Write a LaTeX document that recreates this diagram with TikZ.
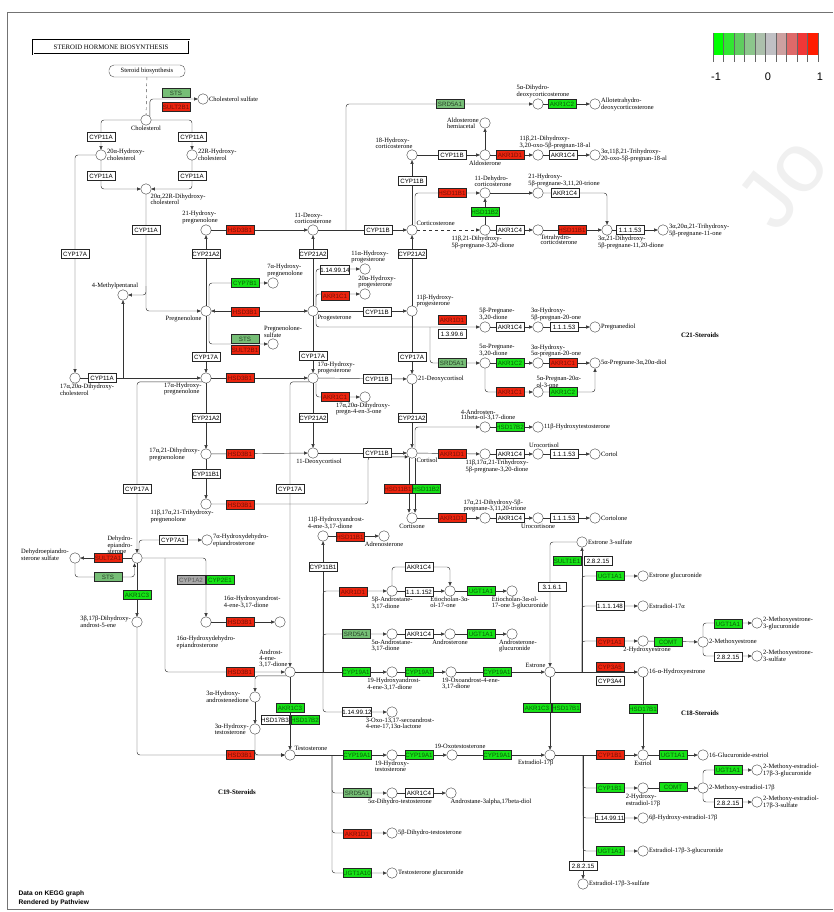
\documentclass[tikz,border=0pt]{standalone}
\usepackage{fontspec}
\setmainfont{Liberation Serif}
\setsansfont{Liberation Sans}
\usepackage{tikz}
\usetikzlibrary{arrows.meta}
\usetikzlibrary{positioning}
\usetikzlibrary{calc}
\definecolor{upred}{RGB}{236,36,14}
\definecolor{dngreen}{RGB}{22,226,22}
\definecolor{palegreen}{RGB}{118,190,118}
\definecolor{midgray}{RGB}{168,168,168}
\tikzstyle{cpd}=[draw=black!75,circle,fill=white,minimum size=10.5pt,inner sep=0pt,line width=0.4pt]
\tikzstyle{lbl}=[font=\fontsize{6.5}{5.8}\selectfont,align=left,inner sep=0.5pt]
\tikzstyle{gene}=[draw=black!85,rectangle,minimum width=28pt,minimum height=9pt,inner sep=0pt,line width=0.4pt,font=\sffamily\fontsize{6.2}{6.2}\selectfont]
\tikzstyle{upg}=[gene,fill=upred,text=upred!50!black]
\tikzstyle{dng}=[gene,fill=dngreen,text=dngreen!40!black]
\tikzstyle{pale}=[gene,fill=palegreen,text=palegreen!35!black]
\tikzstyle{grg}=[gene,fill=midgray,text=black!65]
\tikzstyle{nog}=[gene,fill=white,text=black]
\tikzstyle{rx}=[draw=black!80,line width=0.45pt,rounded corners=3pt]
\tikzstyle{ra}=[rx,-{Triangle[length=3.4pt,width=3.2pt]}]
\tikzstyle{rb}=[rx,{Triangle[length=3.4pt,width=3.2pt]}-{Triangle[length=3.4pt,width=3.2pt]}]
\tikzstyle{grp}=[font=\bfseries\fontsize{6.8}{6.8}\selectfont]

\begin{document}
\begin{tikzpicture}[x=1pt,y=-1pt]
\useasboundingbox (0,0) rectangle (833,912);
\node[text=black!6,rotate=52,font=\sffamily\fontsize{84}{84}\selectfont] (wmark) at (782,182) {Jo};
\draw[black!55,line width=0.8pt] (833,12) -- (7,12) -- (7,909) -- (833,909);

% title and legend
\node[draw,double,double distance=0.9pt,line width=0.4pt,minimum width=156pt,minimum height=14pt,font=\fontsize{6.8}{7}\selectfont] (title) at (111,47) {STEROID HORMONE BIOSYNTHESIS};
\node[draw=black!70,rounded corners=5pt,minimum width=76pt,minimum height=12pt,lbl] (sbio) at (147,71) {Steroid biosynthesis};
\foreach \c [count=\i from 0] in {{rgb,255:red,0;green,255;blue,0},{rgb,255:red,50;green,230;blue,50},{rgb,255:red,95;green,205;blue,95},{rgb,255:red,140;green,198;blue,140},{rgb,255:red,172;green,192;blue,172},{rgb,255:red,192;green,192;blue,196},{rgb,255:red,205;green,160;blue,160},{rgb,255:red,222;green,105;blue,105},{rgb,255:red,240;green,55;blue,55},{rgb,255:red,255;green,28;blue,0}}
  \fill[color=\c] (713+\i*10.5,33) rectangle ++(10.5,22);
\foreach \i in {0,...,10}
  \draw[black!60,line width=0.4pt] (713+\i*10.5,33) -- ++(0,29);
\node[font=\sffamily\fontsize{11}{11}\selectfont] (lgm) at (716,77) {-1};
\node[font=\sffamily\fontsize{11}{11}\selectfont] (lgz) at (768,77) {0};
\node[font=\sffamily\fontsize{11}{11}\selectfont] (lgp) at (820,77) {1};

% compounds
\node[cpd,label={[lbl]below:Cholesterol}] (chol) at (146,120) {};
\node[cpd,label={[lbl]right:Cholesterol sulfate}] (chols) at (203,99) {};
\node[cpd,label={[lbl]right:{20α-Hydroxy-\\cholesterol}}] (ohc20) at (101,155) {};
\node[cpd,label={[lbl]right:{22R-Hydroxy-\\cholesterol}}] (ohc22) at (192,155) {};
\node[cpd,label={[lbl]below right:{20α,22R-Dihydroxy-\\cholesterol}}] (dhc) at (146,189) {};
\node[cpd,label={[lbl,xshift=-8pt]above:4-Methylpentanal}] (mpent) at (123,295) {};
\node[cpd,label={[lbl,xshift=12pt]below:{17α,20α-Dihydroxy-\\cholesterol}}] (dhc1720) at (75,378) {};
\node[cpd,label={[lbl,xshift=-6pt]above:{21-Hydroxy-\\pregnenolone}}] (ohpreg21) at (206,230) {};
\node[cpd,label={[lbl]below left:Pregnenolone}] (preg) at (206,311) {};
\node[cpd,label={[lbl,xshift=12pt]above:{7α-Hydroxy-\\pregnenolone}}] (ohpreg7) at (273,283) {};
\node[cpd,label={[lbl,xshift=10pt]above:{Pregnenolone-\\sulfate}}] (pregs) at (273,344) {};
\node[cpd,label={[lbl]below left:{17α-Hydroxy-\\pregnenolone}}] (ohpreg17) at (206,378) {};
\node[cpd,label={[lbl]left:{17α,21-Dihydroxy-\\pregnenolone}}] (dhpreg) at (206,454) {};
\node[cpd,label={[lbl,xshift=-24pt]below:{11β,17α,21-Trihydroxy-\\pregnenolone}}] (thpreg) at (206,504) {};
\node[cpd,label={[lbl]above:{11-Deoxy-\\corticosterone}}] (doc) at (313,230) {};
\node[cpd,label={[lbl]below right:Progesterone}] (prog) at (313,311) {};
\node[cpd,label={[lbl,xshift=5pt]above:{11α-Hydroxy-\\progesterone}}] (ohprog11a) at (365,269) {};
\node[cpd,label={[lbl,xshift=12pt]above:{20α-Hydroxy-\\progesterone}}] (ohprog20a) at (365,294) {};
\node[cpd,label={[lbl]above right:{17α-Hydroxy-\\progesterone}}] (ohprog17) at (313,378) {};
\node[cpd,label={[lbl,xshift=-2pt]below:{17α,20α-Dihydroxy-\\pregn-4-en-3-one}}] (dhp1720) at (365,397) {};
\node[cpd,label={[lbl,xshift=6pt]below:11-Deoxycortisol}] (docl) at (313,453) {};
\node[cpd,label={[lbl]above right:{11β-Hydroxy-\\progesterone}}] (ohprog11b) at (412,311) {};
\node[cpd,label={[lbl]above right:Corticosterone}] (cort) at (412,230) {};
\node[cpd,label={[lbl,xshift=-18pt]above:{18-Hydroxy-\\corticosterone}}] (ohcort18) at (412,155) {};
\node[cpd,label={[lbl]below:Aldosterone}] (aldo) at (485,155) {};
\node[cpd,label={[lbl]left:{Aldosterone\\hemiacetal}}] (aldoh) at (485,123) {};
\node[cpd,label={[lbl,xshift=17pt]above:{11β,21-Dihydroxy-\\3,20-oxo-5β-pregnan-18-al}}] (oxal) at (538,155) {};
\node[cpd,label={[lbl]right:{3α,11β,21-Trihydroxy-\\20-oxo-5β-pregnan-18-al}}] (thal) at (595,155) {};
\node[cpd,label={[lbl,xshift=5pt]above:{5α-Dihydro-\\deoxycorticosterone}}] (dhdoc) at (538,104) {};
\node[cpd,label={[lbl]right:{Allotetrahydro-\\deoxycorticosterone}}] (atdoc) at (595,104) {};
\node[cpd,label={[lbl,xshift=8pt]above:{11-Dehydro-\\corticosterone}}] (dhcort) at (485,193) {};
\node[cpd,label={[lbl,xshift=26pt]above:{21-Hydroxy-\\5β-pregnane-3,11,20-trione}}] (trione) at (538,193) {};
\node[cpd,label={[lbl,xshift=-2pt]below:{11β,21-Dihydroxy-\\5β-pregnane-3,20-dione}}] (dhpd) at (485,230) {};
\node[cpd,label={[lbl,xshift=-2pt]below right:{Tetrahydro-\\corticosterone}}] (thcort) at (538,230) {};
\node[cpd,label={[lbl,xshift=24pt]below:{3α,21-Dihydroxy-\\5β-pregnane-11,20-dione}}] (dhpdi) at (607,230) {};
\node[cpd,label={[lbl]right:{3α,20α,21-Trihydroxy-\\5β-pregnane-11-one}}] (thpo) at (663,230) {};
\node[cpd,label={[lbl]right:21-Deoxycortisol}] (dd21) at (412,379) {};
\node[cpd,label={[lbl]below right:Cortisol}] (cortl) at (412,453) {};
\node[cpd,label={[lbl,xshift=12pt]above:{5β-Pregnane-\\3,20-dione}}] (pd5b) at (485,327) {};
\node[cpd,label={[lbl,xshift=18pt]above:{3α-Hydroxy-\\5β-pregnan-20-one}}] (hp5b) at (538,327) {};
\node[cpd,label={[lbl]right:Pregnanediol}] (pdiol) at (595,327) {};
\node[cpd,label={[lbl,xshift=12pt]above:{5α-Pregnane-\\3,20-dione}}] (pd5a) at (485,363) {};
\node[cpd,label={[lbl,xshift=18pt]above:{3α-Hydroxy-\\5α-pregnan-20-one}}] (hp5a) at (538,363) {};
\node[cpd,label={[lbl]right:{5α-Pregnane-3α,20α-diol}}] (pdiol5a) at (595,363) {};
\node[cpd,label={[lbl,xshift=-6pt]above right:{5α-Pregnan-20α-\\ol-3-one}}] (polo) at (538,392) {};
\node[cpd,label={[lbl,xshift=3pt]above:{4-Androsten-\\11beta-ol-3,17-dione}}] (andol) at (485,427) {};
\node[cpd,label={[lbl]right:11β-Hydroxytestosterone}] (ohtest11) at (538,427) {};
\node[cpd,label={[lbl,xshift=12pt]below:{11β,17α,21-Trihydroxy-\\5β-pregnane-3,20-dione}}] (thpd) at (485,454) {};
\node[cpd,label={[lbl,xshift=6pt]above:Urocortisol}] (urol) at (538,454) {};
\node[cpd,label={[lbl]right:Cortol}] (cortol) at (595,454) {};
\node[cpd,label={[lbl]below:Cortisone}] (cortn) at (412,518) {};
\node[cpd,label={[lbl,xshift=10pt]above:{17α,21-Dihydroxy-5β-\\pregnane-3,11,20-trione}}] (dhpt) at (485,518) {};
\node[cpd,label={[lbl]below:Urocortisone}] (uron) at (538,518) {};
\node[cpd,label={[lbl]right:Cortolone}] (cortln) at (595,518) {};
\node[cpd,label={[lbl,yshift=3pt]left:{Dehydroepiandro-\\sterone sulfate}}] (dheas) at (75,558) {};
\node[cpd,label={[lbl]above left:{Dehydro-\\epiandro-\\sterone}}] (dhea) at (137,558) {};
\node[cpd,label={[lbl]right:{7α-Hydroxydehydro-\\epiandrosterone}}] (ohdhea7) at (207,540) {};
\node[cpd,label={[lbl,yshift=-8pt]below:{16α-Hydroxydehydro-\\epiandrosterone}}] (ohdhea16) at (206,622) {};
\node[cpd,label={[lbl,xshift=5pt,yshift=9pt]above left:{16α-Hydroxyandrost-\\4-ene-3,17-dione}}] (ohad16) at (280,622) {};
\node[cpd,label={[lbl]left:{3β,17β-Dihydroxy-\\androst-5-ene}}] (adiol) at (137,622) {};
\node[cpd,label={[lbl,xshift=2pt]above left:{Androst-\\4-ene-\\3,17-dione}}] (andro) at (290,672) {};
\node[cpd,label={[lbl,xshift=13pt]above:{11β-Hydroxyandrost-\\4-ene-3,17-dione}}] (ohandro11) at (323,536) {};
\node[cpd,label={[lbl]below:Adrenosterone}] (adren) at (384,536) {};
\node[cpd,label={[lbl]below:{5β-Androstane-\\3,17-dione}}] (ad5b) at (392,591) {};
\node[cpd,label={[lbl]below:{Etiocholan-3α-\\ol-17-one}}] (etio) at (450,591) {};
\node[cpd,label={[lbl,xshift=8pt]below:{Etiocholan-3α-ol-\\17-one 3-glucuronide}}] (etiog) at (512,591) {};
\node[cpd,label={[lbl]below:{5α-Androstane-\\3,17-dione}}] (ad5a) at (392,634) {};
\node[cpd,label={[lbl]below:Androsterone}] (andros) at (450,634) {};
\node[cpd,label={[lbl,xshift=6pt]below:{Androsterone-\\glucuronide}}] (androsg) at (512,634) {};
\node[cpd,label={[lbl,xshift=2pt]below:{19-Hydroxyandrost-\\4-ene-3,17-dione}}] (ohad19) at (392,672) {};
\node[cpd,label={[lbl,xshift=20pt]below:{19-Oxoandrost-4-ene-\\3,17-dione}}] (oxad19) at (451,672) {};
\node[cpd,label={[lbl]above left:Estrone}] (estrone) at (550,672) {};
\node[cpd,label={[lbl,xshift=8pt]below:{3-Oxo-13,17-secoandrost-\\4-ene-17,13α-lactone}}] (lact) at (392,712) {};
\node[cpd,label={[lbl]left:{3α-Hydroxy-\\androstenedione}}] (ohae3a) at (255,697) {};
\node[cpd,label={[lbl]left:{3α-Hydroxy-\\testosterone}}] (ohtest3a) at (255,729) {};
\node[cpd,label={[lbl]above right:Testosterone}] (test) at (290,755) {};
\node[cpd,label={[lbl]below:{19-Hydroxy-\\testosterone}}] (ohtest19) at (392,755) {};
\node[cpd,label={[lbl,xshift=8pt]above:19-Oxotestosterone}] (oxtest19) at (452,755) {};
\node[cpd,label={[lbl,xshift=8pt]below left:Estradiol-17β}] (estrad) at (550,755) {};
\node[cpd,label={[lbl,xshift=8pt]below:5α-Dihydro-testosterone}] (dht5a) at (392,793) {};
\node[cpd,label={[lbl,xshift=40pt]below:Androstane-3alpha,17beta-diol}] (adiol5a) at (451,793) {};
\node[cpd,label={[lbl]right:5β-Dihydro-testosterone}] (dht5b) at (392,833) {};
\node[cpd,label={[lbl]right:Testosterone glucuronide}] (testg) at (392,873) {};
\node[cpd,label={[lbl]right:Estrone 3-sulfate}] (e1s) at (582,542) {};
\node[cpd,label={[lbl]right:Estrone glucuronide}] (e1g) at (643,576) {};
\node[cpd,label={[lbl]right:Estradiol-17α}] (e2a) at (643,606) {};
\node[cpd,label={[lbl,xshift=4pt]below:2-Hydroxyestrone}] (ohe1) at (643,641) {};
\node[cpd,label={[lbl]right:2-Methoxyestrone}] (meoe1) at (703,642) {};
\node[cpd,label={[lbl]right:{2-Methoxyestrone-\\3-glucuronide}}] (meoe1g) at (757,623) {};
\node[cpd,label={[lbl]right:{2-Methoxyestrone-\\3-sulfate}}] (meoe1s) at (757,656) {};
\node[cpd,label={[lbl]right:16-α-Hydroxyestrone}] (ohe16) at (643,672) {};
\node[cpd,label={[lbl]below:Estriol}] (estriol) at (643,755) {};
\node[cpd,label={[lbl]right:16-Glucuronide-estriol}] (estriolg) at (703,755) {};
\node[cpd,label={[lbl]below:{2-Hydroxy-\\estradiol-17β}}] (ohe2) at (643,788) {};
\node[cpd,label={[lbl]right:2-Methoxy-estradiol-17β}] (meoe2) at (703,788) {};
\node[cpd,label={[lbl]right:{2-Methoxy-estradiol-\\17β-3-glucuronide}}] (meoe2g) at (757,770) {};
\node[cpd,label={[lbl]right:{2-Methoxy-estradiol-\\17β-3-sulfate}}] (meoe2s) at (757,802) {};
\node[cpd,label={[lbl]right:6β-Hydroxy-estradiol-17β}] (ohe26) at (643,818) {};
\node[cpd,label={[lbl]right:Estradiol-17β-3-glucuronide}] (e2g) at (643,851) {};
\node[cpd,label={[lbl]right:Estradiol-17β-3-sulfate}] (e2s) at (583,884) {};

\coordinate (b1) at (146,286);
\coordinate (b2) at (123,378);
\coordinate (b3) at (430,327);
\coordinate (b4) at (165,558);
\coordinate (b5) at (332,755);
\coordinate (b6) at (323,672);
\coordinate (b7) at (582,672);
\coordinate (b8) at (583,755);
\coordinate (b9) at (346,230);

% reactions, C21
\draw[rx,dashed,black!70] (sbio) -- (chol);
\draw[ra] (chol.north east) |- (chols);
\draw[ra] (chol) -| (ohc20);
\draw[ra] (chol) -| (ohc22);
\draw[ra] (ohc20) |- (dhc);
\draw[ra] (ohc22) |- (dhc);
\draw[ra] (ohc20) -| (dhc1720);
\draw[ra] (dhc) |- (preg);
\draw[ra] (b1) |- (mpent);
\draw[ra] (b2) -- (mpent);
\draw[ra] (dhc1720) -- (ohpreg17);
\draw[ra] (preg) -- (ohpreg21);
\draw[ra] (ohpreg21) -- (doc);
\draw[rb] (preg) -- (prog);
\draw[ra] ([xshift=3pt]preg.north) |- (ohpreg7);
\draw[ra] ([xshift=3pt]preg.south) |- (pregs);
\draw[ra] (preg) -- (ohpreg17);
\draw[ra] (ohpreg17) -- (ohprog17);
\draw[ra] (ohpreg17) -- (dhpreg);
\draw[ra] (dhpreg) -- (docl);
\draw[ra] (dhpreg) -- (thpreg);
\draw[ra] (thpreg) -- ++(162,0) |- (cortl.south west);
\draw[ra] (ohpreg17.south west) -| (dhea);
\draw[ra] (prog) -- (doc);
\draw[ra] ([xshift=3pt]prog.north) |- (ohprog11a);
\draw[ra] ([xshift=3pt]prog.north) |- (ohprog20a);
\draw[ra] (prog) -- (ohprog11b);
\draw[ra] (prog) -- (ohprog17);
\draw[ra] ([xshift=3pt]prog.south) |- (pd5b);
\draw[ra] (b3) |- (pd5a);
\draw[ra] (ohprog11b) -- (cort);
\draw[ra] (ohprog11b) -- (dd21);
\draw[ra] (ohprog17) -- (dd21);
\draw[ra] ([xshift=3pt]ohprog17.south) |- (dhp1720);
\draw[ra] (ohprog17) -- (docl);
\draw[ra] (dd21) -- (cortl);
\draw[ra] (docl) -- (cortl);
\draw[ra] (ohprog17.south west) -| (andro);
\draw[ra] (doc) -- (cort);
\draw[ra] (b9) |- (dhdoc);
\draw[ra] (dhdoc) -- (atdoc);
\draw[ra] (cort) -- (ohcort18);
\draw[ra] (ohcort18) -- (aldo);
\draw[ra] (aldo) -- (aldoh);
\draw[ra] (aldo) -- (oxal);
\draw[ra] (oxal) -- (thal);
\draw[ra] ([xshift=3pt]cort.north) |- (dhcort);
\draw[ra,dashed] (cort) -- (dhpd);
\draw[ra] (dhpd) -- (dhcort);
\draw[ra] (dhpd) -- (thcort);
\draw[ra] (thcort) -- (dhpdi);
\draw[ra] (dhpdi) -- (thpo);
\draw[ra] (dhcort) -- (trione);
\draw[ra] (trione) -| (dhpdi);
\draw[ra] (pd5b) -- (hp5b);
\draw[ra] (hp5b) -- (pdiol);
\draw[ra] (pd5a) -- (hp5a);
\draw[ra] (hp5a) -- (pdiol5a);
\draw[ra] (pd5a) |- (polo);
\draw[ra] (polo) -| (pdiol5a);
\draw[ra] ([xshift=3pt]cortl.north) |- (andol);
\draw[ra] (andol) -- (ohtest11);
\draw[ra] (cortl) -- (thpd);
\draw[ra] (thpd) -- (urol);
\draw[ra] (urol) -- (cortol);
\draw[ra] ([xshift=-3pt]cortl.south) -- ([xshift=-3pt]cortn.north);
\draw[ra] ([xshift=3pt]cortl.south) -- ([xshift=3pt]cortn.north);
\draw[ra] (cortn) -- (dhpt);
\draw[ra] (dhpt) -- (uron);
\draw[ra] (uron) -- (cortln);
% C19
\draw[ra] (dhea) -- (dheas);
\draw[ra] (dheas) |- ++(30,19) -| ([xshift=-2.5pt]dhea.south);
\draw[ra] ([xshift=2pt]dhea.north) |- (ohdhea7);
\draw[ra] (dhea) -| (ohdhea16);
\draw[ra] (b4) |- (andro);
\draw[ra] (ohdhea16) -- (ohad16);
\draw[ra] (dhea) -- (adiol);
\draw[ra] (adiol) |- (test);
\draw[ra] (andro) -- (test);
\draw[ra] (andro.south west) -| (ohae3a);
\draw[ra] (ohae3a) -- (ohtest3a);
\draw[ra] (ohtest3a) |- (test);
\draw[ra] (andro) -- (ohad19);
\draw[ra] (ohad19) -- (oxad19);
\draw[ra] (oxad19) -- (estrone);
\draw[ra] (b6) -- (ohandro11);
\draw[ra] (ohandro11) -- (adren);
\draw[ra] (b6) |- (ad5b);
\draw[ra] (b6) |- (ad5a);
\draw[ra] (b6) |- (lact);
\draw[ra] (ad5b) -- (etio);
\draw[ra] (ad5b) -- ++(0,-24) -| (etio);
\draw[ra] (etio) -- (etiog);
\draw[ra] (ad5a) -- (andros);
\draw[ra] (andros) -- (androsg);
\draw[ra] (test) -- (ohtest19);
\draw[ra] (ohtest19) -- (oxtest19);
\draw[ra] (oxtest19) -- (estrad);
\draw[ra] (b5) |- (dht5a);
\draw[ra] (b5) |- (dht5b);
\draw[ra] (b5) |- (testg);
\draw[ra] (dht5a) -- (adiol5a);
% C18
\draw[ra] (b7) -- (e1s);
\draw[ra] (e1s) -| (estrone);
\draw[ra] (b7) |- (e1g);
\draw[ra] (b7) |- (e2a);
\draw[ra] (b7) |- (ohe1);
\draw[ra] (estrone) -- (ohe16);
\draw[ra] (ohe1) -- (meoe1);
\draw[ra] (meoe1) |- (meoe1g);
\draw[ra] (meoe1) |- (meoe1s);
\draw[ra] (ohe16) -- (estriol);
\draw[ra] (estrone) -- (estrad);
\draw[ra] (estrad) -- (estriol);
\draw[ra] (estriol) -- (estriolg);
\draw[ra] (b8) |- (ohe2);
\draw[ra] (b8) |- (ohe26);
\draw[ra] (b8) |- (e2g);
\draw[ra] (b8) -- (e2s);
\draw[ra] (ohe2) -- (meoe2);
\draw[ra] (meoe2) |- (meoe2g);
\draw[ra] (meoe2) |- (meoe2s);

% gene products
\node[pale] (gSTSa) at (176,93) {STS};
\node[upg] (gSULTa) at (176,107) {SULT2B1};
\node[nog] (gA1) at (101,137) {CYP11A};
\node[nog] (gA2) at (192,137) {CYP11A};
\node[nog] (gA3) at (101,176) {CYP11A};
\node[nog] (gA4) at (192,176) {CYP11A};
\node[nog] (gA5) at (146,230) {CYP11A};
\node[nog] (gA6) at (102,378) {CYP11A};
\node[nog] (gB1) at (75,254) {CYP17A};
\node[nog] (gB2) at (206,357) {CYP17A};
\node[nog] (gB3) at (313,356) {CYP17A};
\node[nog] (gB4) at (412,357) {CYP17A};
\node[nog] (gB5) at (137,489) {CYP17A};
\node[nog] (gB6) at (290,489) {CYP17A};
\node[nog] (gC1) at (206,254) {CYP21A2};
\node[nog] (gC2) at (313,254) {CYP21A2};
\node[nog] (gC3) at (412,254) {CYP21A2};
\node[nog] (gC4) at (206,418) {CYP21A2};
\node[nog] (gC5) at (313,418) {CYP21A2};
\node[nog] (gC6) at (412,418) {CYP21A2};
\node[nog] (gD1) at (378,230) {CYP11B};
\node[nog] (gD2) at (412,181) {CYP11B};
\node[nog] (gD3) at (452,155) {CYP11B};
\node[nog] (gD4) at (377,312) {CYP11B};
\node[nog] (gD5) at (377,379) {CYP11B};
\node[nog] (gD6) at (377,453) {CYP11B};
\node[nog] (gE1) at (206,474) {CYP11B1};
\node[nog] (gE2) at (323,567) {CYP11B1};
\node[upg] (gH1) at (240,230) {HSD3B1};
\node[upg] (gH2) at (245,312) {HSD3B1};
\node[upg] (gH3) at (240,378) {HSD3B1};
\node[upg] (gH4) at (240,454) {HSD3B1};
\node[upg] (gH5) at (240,505) {HSD3B1};
\node[upg] (gH6) at (240,622) {HSD3B1};
\node[upg] (gH7) at (240,672) {HSD3B1};
\node[upg] (gH8) at (240,755) {HSD3B1};
\node[dng] (gCYP7B1) at (245,283) {CYP7B1};
\node[pale] (gSTSb) at (245,339) {STS};
\node[upg] (gSULTb) at (245,350) {SULT2B1};
\node[nog] (gE14a) at (335,270) {1.14.99.14};
\node[upg] (gK1) at (335,296) {AKR1C1};
\node[upg] (gK2) at (335,397) {AKR1C1};
\node[upg] (gK3) at (563,363) {AKR1C1};
\node[upg] (gK4) at (510,392) {AKR1C1};
\node[upg] (gL1) at (452,320) {AKR1D1};
\node[upg] (gL2) at (510,155) {AKR1D1};
\node[upg] (gL3) at (452,454) {AKR1D1};
\node[upg] (gL4) at (452,518) {AKR1D1};
\node[upg] (gL5) at (353,592) {AKR1D1};
\node[upg] (gL6) at (357,834) {AKR1D1};
\node[nog] (gE13) at (452,334) {1.3.99.6};
\node[pale] (gS1) at (450,104) {SRD5A1};
\node[pale] (gS2) at (452,363) {SRD5A1};
\node[pale] (gS3) at (356,634) {SRD5A1};
\node[pale] (gS4) at (357,793) {SRD5A1};
\node[dng] (gM1) at (562,104) {AKR1C2};
\node[dng] (gM2) at (510,363) {AKR1C2};
\node[dng] (gM3) at (563,392) {AKR1C2};
\node[nog] (gN1) at (563,155) {AKR1C4};
\node[nog] (gN2) at (565,193) {AKR1C4};
\node[nog] (gN3) at (510,230) {AKR1C4};
\node[nog] (gN4) at (510,327) {AKR1C4};
\node[nog] (gN5) at (510,454) {AKR1C4};
\node[nog] (gN6) at (510,518) {AKR1C4};
\node[nog] (gN7) at (419,567) {AKR1C4};
\node[nog] (gN8) at (419,634) {AKR1C4};
\node[nog] (gN9) at (419,793) {AKR1C4};
\node[upg] (gP1) at (452,193) {HSD11B1};
\node[upg] (gP2) at (572,230) {HSD11B1};
\node[upg] (gP3) at (398,489) {HSD11B1};
\node[upg] (gP4) at (350,537) {HSD11B1};
\node[dng] (gQ1) at (485,212) {HSD11B2};
\node[dng] (gQ2) at (426,489) {HSD11B2};
\node[nog] (gR1) at (630,230) {1.1.1.53};
\node[nog] (gR2) at (564,327) {1.1.1.53};
\node[nog] (gR3) at (564,454) {1.1.1.53};
\node[nog] (gR4) at (564,518) {1.1.1.53};
\node[dng] (gT1) at (510,427) {HSD17B2};
\node[upg] (gSULT2A1) at (108,558) {SULT2A1};
\node[pale] (gSTSc) at (108,577) {STS};
\node[nog] (gCYP7A1) at (173,540) {CYP7A1};
\node[grg] (gCYP1A2) at (191,580) {CYP1A2};
\node[dng] (gCYP2E1) at (220,580) {CYP2E1};
\node[dng] (gU1) at (137,595) {AKR1C3};
\node[dng] (gU2) at (290,708) {AKR1C3};
\node[dng] (gU3) at (537,708) {AKR1C3};
\node[nog] (gT2) at (275,720) {HSD17B3};
\node[dng] (gT3) at (305,720) {HSD17B2};
\node[dng] (gV1) at (356,672) {CYP19A1};
\node[dng] (gV2) at (419,672) {CYP19A1};
\node[dng] (gV3) at (497,672) {CYP19A1};
\node[dng] (gV4) at (357,755) {CYP19A1};
\node[dng] (gV5) at (419,755) {CYP19A1};
\node[dng] (gV6) at (497,755) {CYP19A1};
\node[nog] (gE152) at (419,592) {1.1.1.152};
\node[dng] (gW1) at (481,591) {UGT1A1};
\node[dng] (gW2) at (481,634) {UGT1A1};
\node[dng] (gW3) at (610,576) {UGT1A1};
\node[dng] (gW4) at (728,624) {UGT1A1};
\node[dng] (gW5) at (673,755) {UGT1A1};
\node[dng] (gW6) at (728,770) {UGT1A1};
\node[dng] (gW7) at (610,851) {UGT1A1};
\node[nog] (gE14b) at (357,712) {1.14.99.12};
\node[dng] (gW8) at (357,873) {UGT1A10};
\node[dng] (gSULT1E1) at (567,561) {SULT1E1};
\node[nog] (gX1) at (598,561) {2.8.2.15};
\node[nog] (gE316) at (552,587) {3.1.6.1};
\node[nog] (gE148) at (610,606) {1.1.1.148};
\node[upg] (gCYP1A1) at (610,642) {CYP1A1};
\node[dng] (gCOMTa) at (668,642) {COMT};
\node[dng] (gCOMTb) at (673,787) {COMT};
\node[nog] (gX2) at (728,657) {2.8.2.15};
\node[nog] (gX3) at (728,803) {2.8.2.15};
\node[nog] (gX4) at (583,866) {2.8.2.15};
\node[upg] (gCYP3A5) at (610,667) {CYP3A5};
\node[nog] (gCYP3A4) at (610,681) {CYP3A4};
\node[dng] (gY1) at (643,709) {HSD17B1};
\node[dng] (gY2) at (566,708) {HSD17B1};
\node[upg] (gZ1) at (610,755) {CYP1B1};
\node[dng] (gZ2) at (610,788) {CYP1B1};
\node[nog] (gE14c) at (610,818) {1.14.99.11};

% group titles and footer
\node[grp] (c21) at (700,335) {C21-Steroids};
\node[grp] (c19) at (237,792) {C19-Steroids};
\node[grp] (c18) at (700,713) {C18-Steroids};
\node[anchor=west,align=left,font=\sffamily\bfseries\fontsize{6.6}{8.6}\selectfont] (credit) at (15,898) {Data on KEGG graph\\Rendered by Pathview};
\end{tikzpicture}
\end{document}
